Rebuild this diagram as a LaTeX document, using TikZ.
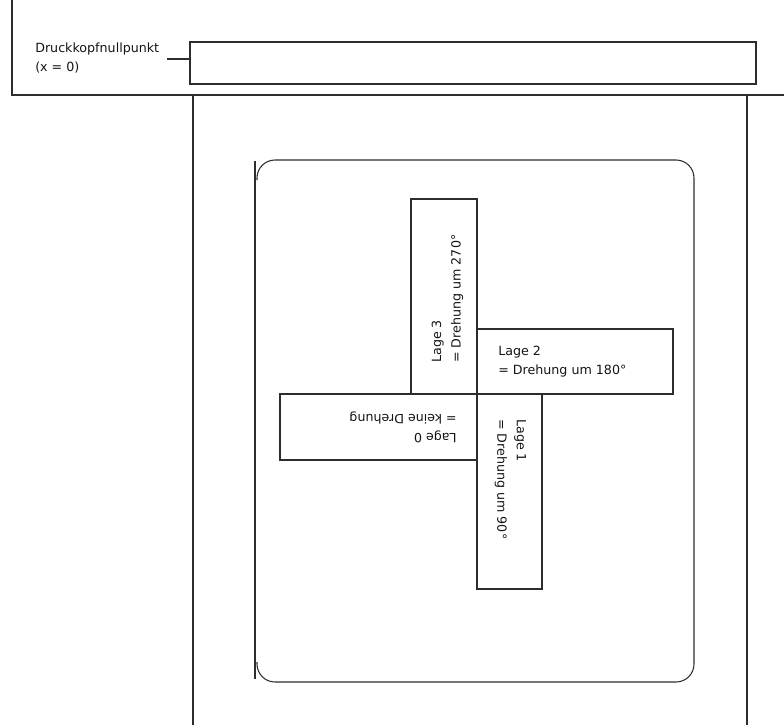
\documentclass[tikz,border=0pt]{standalone}
\usepackage{fontspec}
\setmainfont{DejaVu Sans}
\definecolor{linec}{RGB}{45,45,45}
\definecolor{textc}{RGB}{20,20,20}
\tikzset{
  frame/.style={draw=linec, line width=0.8pt},
  lbl/.style={inner sep=0pt, align=left, text=textc,
    font=\fontsize{9.5pt}{14.6pt}\selectfont},
}
\begin{document}
\begin{tikzpicture}[x=0.75pt, y=-0.75pt]
\useasboundingbox (0,0) rectangle (784,725);
% outer frame lines
\draw[frame] (12,0) -- (12,95) -- (784,95);
\draw[frame] (193,95) -- (193,725);
\draw[frame] (747,95) -- (747,725);
% print head
\draw[frame] (190,42) rectangle (756,84);
\coordinate (headL) at (190,59);
\node[lbl, anchor=west] (nullp) at (35,58) {Druckkopfnullpunkt\\(x = 0)};
\coordinate (leadS) at (167,59);
\draw[frame] (leadS) -- (headL);
% label outline
\draw[frame, rounded corners=13.5pt] (257,180) -- (257,160) -- (694,160) -- (694,682) -- (257,682) -- (257,662);
\draw[frame] (255,161) -- (255,679);
% four positions
\draw[frame] (411,199) rectangle (477,394);
\draw[frame] (477,329) rectangle (673,394);
\draw[frame] (280,394) rectangle (477,460);
\draw[frame] (477,394) rectangle (542,589);
\node[lbl, anchor=west] (l2) at (498,361.5) {Lage 2\\= Drehung um 180°};
\node[lbl, anchor=west, rotate=90] (l3) at (447.5,363) {Lage 3\\= Drehung um 270°};
\node[lbl, anchor=west, rotate=-90] (l1) at (510.5,419) {Lage 1\\= Drehung um 90°};
\node[lbl, anchor=west, rotate=180] (l0) at (457,427.5) {Lage 0\\= keine Drehung};
\end{tikzpicture}
\end{document}
